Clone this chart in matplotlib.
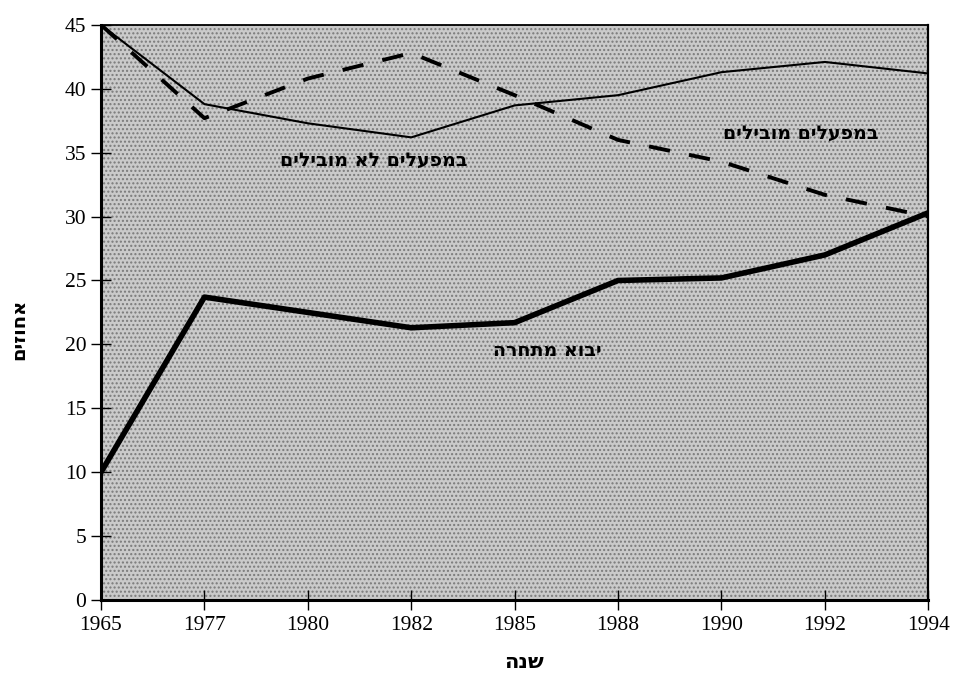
import matplotlib
matplotlib.use('Agg')
from matplotlib import pyplot as plt
import numpy as np

years = ['1965', '1977', '1980', '1982', '1985', '1988', '1990', '1992', '1994']
leading = [45, 38.8, 37.3, 36.2, 38.7, 39.5, 41.3, 42.1, 41.2]
not_leading = [45, 37.7, 40.8, 42.8, 39.5, 36.0, 34.3, 31.7, 30.0]
imports = [10, 23.7, 22.5, 21.3, 21.7, 25.0, 25.2, 27.0, 30.3]

lbl_leading = 'במפעלים מובילים'
lbl_not_leading = 'במפעלים לא מובילים'
lbl_imports = 'יבוא מתחרה'
xlab = 'שנה'
ylab = 'אחוזים'

def heb(s):
    # matplotlib has no bidi, so reverse hebrew for visual order
    return s[::-1]

x = np.arange(len(years))

fig = plt.figure(figsize=(9.55, 6.73), dpi=100)
ax = fig.add_axes([0.1058, 0.1085, 0.8662, 0.8545])
ax.set_facecolor('#cacaca')
ax.add_patch(plt.Rectangle((0, 0), 1, 1, transform=ax.transAxes,
                           facecolor='none', edgecolor='#7a7a7a',
                           hatch='....', linewidth=0, zorder=0))

ax.plot(x, leading, color='black', lw=1.5, zorder=3)
ax.plot(x, not_leading, color='black', lw=2.8, ls=(0, (5.5, 5)), zorder=3)
ax.plot(x, imports, color='black', lw=4.0, zorder=3)

hfont = dict(family='DejaVu Sans', fontweight='bold', fontsize=13.7)
ax.text(2.635, 34.4, heb(lbl_not_leading), ha='center', va='center', **hfont)
ax.text(6.77, 36.5, heb(lbl_leading), ha='center', va='center', **hfont)
ax.text(4.32, 19.55, heb(lbl_imports), ha='center', va='center', **hfont)

ax.set_xlim(0, len(years) - 1)
ax.set_ylim(0, 45)
ax.set_xticks(x)
ax.set_xticklabels(years)
ax.set_yticks(np.arange(0, 46, 5))

for lab in ax.get_xticklabels() + ax.get_yticklabels():
    lab.set_family('Liberation Serif')
    lab.set_fontsize(15.5)
ax.tick_params(direction='inout', length=15, width=1, color='black')
ax.tick_params(axis='x', pad=4)
ax.tick_params(axis='y', pad=3)

ax.spines['left'].set_linewidth(2.2)
ax.spines['bottom'].set_linewidth(2.2)
ax.spines['top'].set_linewidth(1.3)
ax.spines['right'].set_linewidth(1.6)

ax.set_xlabel(heb(xlab), fontsize=15, fontweight='bold', family='DejaVu Sans')
ax.set_ylabel(heb(ylab), fontsize=14, fontweight='bold', family='DejaVu Sans')
ax.xaxis.set_label_coords(0.511, -0.09)
ax.yaxis.set_label_coords(-0.088, 0.47)

fig.savefig('out.png', dpi=100)
